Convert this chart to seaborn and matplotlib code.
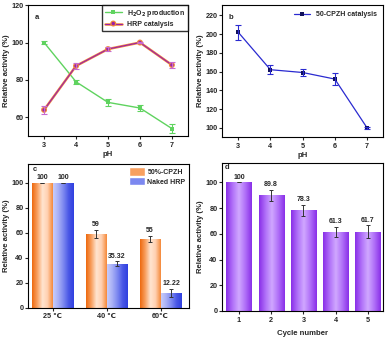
import numpy as np
import pandas as pd
import matplotlib
matplotlib.use('Agg')
import matplotlib.pyplot as plt
import matplotlib.patheffects as pe
from matplotlib.colors import LinearSegmentedColormap
from matplotlib.patches import Patch
import seaborn as sns

# ---- data ----
ph = [3, 4, 5, 6, 7]
h2o2_prod = [100, 79, 68, 65, 54]
h2o2_err = [0.8, 1.0, 2.0, 1.5, 2.2]
hrp_cat = [64, 87.5, 96.5, 100, 88]
hrp_err = [2.2, 1.5, 1.0, 0.5, 1.5]

cpzh_cat = [202, 162, 159, 152, 100]
cpzh_err = [8, 5, 4, 6, 1]

temps = ['25 ℃', '40 ℃', '60℃']
temp_cpzh = [100, 59, 55]
temp_cpzh_err = [0, 3.5, 2.5]
temp_naked = [100, 35.32, 12.22]
temp_naked_err = [0, 2.0, 3.2]

cycles = ['1', '2', '3', '4', '5']
cycle_act = [100, 89.8, 78.3, 61.3, 61.7]
cycle_err = [0, 4.2, 4.2, 4.0, 5.0]

sns.set_style('ticks')
plt.rcParams['font.family'] = ['Liberation Sans', 'DejaVu Sans']
plt.rcParams['font.weight'] = 'bold'
plt.rcParams['axes.labelweight'] = 'bold'
plt.rcParams['axes.linewidth'] = 0.8
plt.rcParams['xtick.major.size'] = 2.2
plt.rcParams['ytick.major.size'] = 2.2
plt.rcParams['xtick.major.width'] = 0.8
plt.rcParams['ytick.major.width'] = 0.8
plt.rcParams['xtick.major.pad'] = 1.8
plt.rcParams['ytick.major.pad'] = 1.2
plt.rcParams['xtick.labelsize'] = 5.2
plt.rcParams['ytick.labelsize'] = 5.2

fig = plt.figure(figsize=(3.85, 3.41), dpi=100)
ax_a = fig.add_axes([0.073, 0.601, 0.415, 0.384])
ax_b = fig.add_axes([0.577, 0.598, 0.418, 0.387])
ax_c = fig.add_axes([0.073, 0.097, 0.418, 0.422])
ax_d = fig.add_axes([0.577, 0.088, 0.418, 0.434])

lab_fs = 5.6


def box(ax):
    for s in ax.spines.values():
        s.set_visible(True)
        s.set_color('black')


def grad_fill(ax, patches, cmap):
    # repaint bars with a horizontal "cylinder" gradient
    for p in patches:
        x0, y0 = p.get_x(), p.get_y()
        w, h = p.get_width(), p.get_height()
        if h <= 0:
            continue
        p.set_facecolor('none')
        im = ax.imshow(np.linspace(0, 1, 64).reshape(1, -1), cmap=cmap, aspect='auto',
                       extent=[x0, x0 + w, y0, y0 + h], zorder=1.5)
        im.set_clip_path(p)


# ---- panel a ----
df_a = pd.DataFrame({'pH': ph, 'H2O2': h2o2_prod, 'HRP': hrp_cat})
sns.lineplot(data=df_a, x='pH', y='H2O2', ax=ax_a, color='#5fd35f', lw=1.0,
             marker='s', markersize=2.5, markeredgewidth=0, label='H$_2$O$_2$ production')
ax_a.errorbar(ph, h2o2_prod, yerr=h2o2_err, fmt='none', ecolor='#5fd35f',
              elinewidth=0.8, capsize=2, capthick=0.8)
sns.lineplot(data=df_a, x='pH', y='HRP', ax=ax_a, color='#9a1fa8', lw=0.8,
             marker='o', markersize=2.5, markeredgewidth=0, label='HRP catalysis',
             path_effects=[pe.Stroke(linewidth=1.8, foreground='#f08a3c'), pe.Normal()])
ax_a.errorbar(ph, hrp_cat, yerr=hrp_err, fmt='none', ecolor='#c86ad0',
              elinewidth=0.8, capsize=2, capthick=0.8)
ax_a.set_xlim(2.5, 7.5)
ax_a.set_ylim(50, 120)
ax_a.set_xticks(ph)
ax_a.set_yticks([60, 80, 100, 120])
ax_a.set_xlabel('pH', fontsize=lab_fs, labelpad=2)
ax_a.set_ylabel('Relative activity (%)', fontsize=lab_fs, labelpad=1)
ax_a.text(0.04, 0.93, 'a', transform=ax_a.transAxes, fontsize=5.5, fontweight='bold', va='top')
ax_a.legend(loc='upper right', fontsize=5.0, frameon=True, fancybox=False, edgecolor='black',
            handlelength=2.4, borderpad=0.4, labelspacing=0.3, borderaxespad=0.0)
box(ax_a)

# ---- panel b ----
df_b = pd.DataFrame({'pH': ph, 'act': cpzh_cat})
sns.lineplot(data=df_b, x='pH', y='act', ax=ax_b, color='#2a2ad0', lw=0.9,
             marker='s', markersize=2.5, markerfacecolor='#10105a', markeredgewidth=0,
             label='50-CPZH catalysis')
ax_b.errorbar(ph, cpzh_cat, yerr=cpzh_err, fmt='none', ecolor='#2a2ad0',
              elinewidth=0.8, capsize=2, capthick=0.8)
ax_b.set_xlim(2.5, 7.5)
ax_b.set_ylim(90, 231)
ax_b.set_xticks(ph)
ax_b.set_yticks(range(100, 221, 20))
ax_b.set_xlabel('pH', fontsize=lab_fs, labelpad=2)
ax_b.set_ylabel('Relative activity (%)', fontsize=lab_fs, labelpad=1)
ax_b.text(0.04, 0.93, 'b', transform=ax_b.transAxes, fontsize=5.5, fontweight='bold', va='top')
ax_b.legend(loc='upper right', fontsize=5.0, frameon=False, handlelength=2.4,
            borderaxespad=0.5)
box(ax_b)

# ---- panel c ----
df_c = pd.DataFrame({'temp': temps * 2,
                     'act': temp_cpzh + temp_naked,
                     'group': ['50%-CPZH'] * 3 + ['Naked HRP'] * 3})
sns.barplot(data=df_c, x='temp', y='act', hue='group', ax=ax_c, width=0.78,
            palette=['#f58a3a', '#6070ee'], edgecolor='none', legend=False, saturation=1)
orange = LinearSegmentedColormap.from_list('o', ['#ee6a10', '#f8a060', '#ffe4d0', '#ffd0b0', '#f58a3a'])
blue = LinearSegmentedColormap.from_list('b', ['#c8ccfa', '#a8b0f6', '#7c88f0', '#4a58e6', '#3040e0'])
n = len(temps)
bars = list(ax_c.patches[:2 * n])
grad_fill(ax_c, bars[:n], orange)
grad_fill(ax_c, bars[n:], blue)
xc = [p.get_x() + p.get_width() / 2 for p in bars]
vals_c = temp_cpzh + temp_naked
errs_c = temp_cpzh_err + temp_naked_err
ax_c.errorbar(xc, vals_c, yerr=errs_c, fmt='none', ecolor='#333333',
              elinewidth=0.7, capsize=1.6, capthick=0.7, zorder=3)
for x, v, e in zip(xc, vals_c, errs_c):
    ax_c.text(x, v + e + 1.2, f'{v:g}', ha='center', va='bottom', fontsize=5.0, fontweight='bold')
ax_c.set_xlim(-0.46, 2.53)
ax_c.set_ylim(0, 115)
ax_c.set_yticks(range(0, 101, 20))
ax_c.set_xlabel('')
ax_c.set_ylabel('Relative activity (%)', fontsize=lab_fs, labelpad=1)
ax_c.text(0.03, 0.985, 'c', transform=ax_c.transAxes, fontsize=5.5, fontweight='bold', va='top')
ax_c.legend(handles=[Patch(facecolor='#f8a060', label='50%-CPZH'),
                     Patch(facecolor='#7c88f0', label='Naked HRP')],
            loc='upper right', fontsize=5.0, frameon=False, handlelength=2.2,
            handleheight=1.4, labelspacing=0.2, borderaxespad=0.1, handletextpad=0.4)
box(ax_c)

# ---- panel d ----
df_d = pd.DataFrame({'cycle': cycles, 'act': cycle_act})
sns.barplot(data=df_d, x='cycle', y='act', ax=ax_d, width=0.78, color='#a050f0',
            edgecolor='none', saturation=1)
purple = LinearSegmentedColormap.from_list('p', ['#8a30e8', '#b070f8', '#d0a8ff', '#b070f8', '#8a30e8'])
dbars = list(ax_d.patches)
grad_fill(ax_d, dbars, purple)
xd = [p.get_x() + p.get_width() / 2 for p in dbars]
ax_d.errorbar(xd, cycle_act, yerr=cycle_err, fmt='none', ecolor='#333333',
              elinewidth=0.7, capsize=1.6, capthick=0.7, zorder=3)
for x, v, e in zip(xd, cycle_act, cycle_err):
    ax_d.text(x, v + e + 1.2, f'{v:g}', ha='center', va='bottom', fontsize=5.0, fontweight='bold')
ax_d.set_xlim(-0.52, 4.47)
ax_d.set_ylim(0, 115)
ax_d.set_yticks(range(0, 101, 20))
ax_d.set_xlabel('Cycle number', fontsize=lab_fs, labelpad=5)
ax_d.set_ylabel('Relative activity (%)', fontsize=lab_fs, labelpad=1)
ax_d.text(0.015, 0.995, 'd', transform=ax_d.transAxes, fontsize=5.5, fontweight='bold', va='top')
box(ax_d)

fig.savefig('out.png', dpi=100)
